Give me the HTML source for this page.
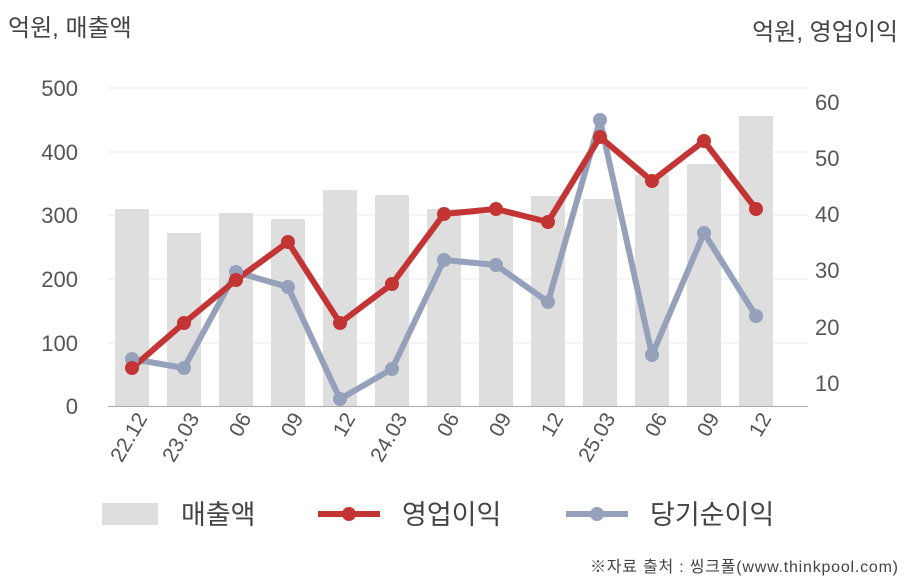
<!DOCTYPE html>
<html><head><meta charset="utf-8"><style>
body{margin:0;background:#fff;}
svg text{font-family:"Liberation Sans","Noto Sans CJK KR",sans-serif;}
</style></head><body>
<svg width="908" height="580" xmlns="http://www.w3.org/2000/svg">
<rect width="908" height="580" fill="#fff"/>
<text x="8" y="36" font-size="24" fill="#444">억원, 매출액</text>
<text x="898" y="40" font-size="24" fill="#444" text-anchor="end">억원, 영업이익</text>
<g stroke="#e8e8e8" stroke-width="1">
<line x1="108" y1="88" x2="808" y2="88"/><line x1="108" y1="152" x2="808" y2="152"/>
<line x1="108" y1="215" x2="808" y2="215"/><line x1="108" y1="279" x2="808" y2="279"/>
<line x1="108" y1="343" x2="808" y2="343"/>
</g>
<g font-size="22" fill="#555" text-anchor="end">
<text x="78" y="96">500</text><text x="78" y="160">400</text><text x="78" y="223">300</text>
<text x="78" y="287">200</text><text x="78" y="351">100</text><text x="78" y="414">0</text>
</g>
<g font-size="22" fill="#555">
<text x="815" y="110">60</text><text x="815" y="166">50</text><text x="815" y="222">40</text>
<text x="815" y="278">30</text><text x="815" y="335">20</text><text x="815" y="391">10</text>
</g>
<g fill="#dedede">
<rect x="115" y="209" width="34" height="197"/><rect x="167" y="233" width="34" height="173"/>
<rect x="219" y="213" width="34" height="193"/><rect x="271" y="219" width="34" height="187"/>
<rect x="323" y="190" width="34" height="216"/><rect x="375" y="195" width="34" height="211"/>
<rect x="427" y="209" width="34" height="197"/><rect x="479" y="214" width="34" height="192"/>
<rect x="531" y="196" width="34" height="210"/><rect x="583" y="199" width="34" height="207"/>
<rect x="635" y="175" width="34" height="231"/><rect x="687" y="164" width="34" height="242"/>
<rect x="739" y="116" width="34" height="290"/>
</g>
<line x1="108" y1="406.5" x2="808" y2="406.5" stroke="#aaa" stroke-width="1"/>
<g fill="none" stroke-width="6" stroke-linejoin="round">
<polyline stroke="#95a0ba" points="132,359 184,368 236,272 288,287 340,399 392,369 444,260 496,265 548,302 600,120 652,355 704,233 756,316"/>
<polyline stroke="#c33434" points="132,368 184,323 236,280 288,242 340,323 392,284 444,214 496,209 548,222 600,137 652,181 704,141 756,209"/>
</g>
<g fill="#95a0ba">
<circle cx="132" cy="359" r="7"/><circle cx="184" cy="368" r="7"/><circle cx="236" cy="272" r="7"/><circle cx="288" cy="287" r="7"/><circle cx="340" cy="399" r="7"/><circle cx="392" cy="369" r="7"/><circle cx="444" cy="260" r="7"/><circle cx="496" cy="265" r="7"/><circle cx="548" cy="302" r="7"/><circle cx="600" cy="120" r="7"/><circle cx="652" cy="355" r="7"/><circle cx="704" cy="233" r="7"/><circle cx="756" cy="316" r="7"/>
</g>
<g fill="#c33434">
<circle cx="132" cy="368" r="7"/><circle cx="184" cy="323" r="7"/><circle cx="236" cy="280" r="7"/><circle cx="288" cy="242" r="7"/><circle cx="340" cy="323" r="7"/><circle cx="392" cy="284" r="7"/><circle cx="444" cy="214" r="7"/><circle cx="496" cy="209" r="7"/><circle cx="548" cy="222" r="7"/><circle cx="600" cy="137" r="7"/><circle cx="652" cy="181" r="7"/><circle cx="704" cy="141" r="7"/><circle cx="756" cy="209" r="7"/>
</g>
<g font-size="21" fill="#555" text-anchor="end">
<text transform="translate(148,418) rotate(-60)">22.12</text>
<text transform="translate(200,418) rotate(-60)">23.03</text>
<text transform="translate(252,418) rotate(-60)">06</text>
<text transform="translate(304,418) rotate(-60)">09</text>
<text transform="translate(356,418) rotate(-60)">12</text>
<text transform="translate(408,418) rotate(-60)">24.03</text>
<text transform="translate(460,418) rotate(-60)">06</text>
<text transform="translate(512,418) rotate(-60)">09</text>
<text transform="translate(564,418) rotate(-60)">12</text>
<text transform="translate(616,418) rotate(-60)">25.03</text>
<text transform="translate(668,418) rotate(-60)">06</text>
<text transform="translate(720,418) rotate(-60)">09</text>
<text transform="translate(772,418) rotate(-60)">12</text>
</g>
<rect x="102" y="503" width="56" height="22" fill="#dedede"/>
<text x="181" y="524" font-size="27" fill="#444">매출액</text>
<line x1="318" y1="514" x2="380" y2="514" stroke="#c33434" stroke-width="6"/>
<circle cx="349" cy="514" r="7" fill="#c33434"/>
<text x="402" y="524" font-size="27" fill="#444">영업이익</text>
<line x1="566" y1="514" x2="628" y2="514" stroke="#95a0ba" stroke-width="6"/>
<circle cx="597" cy="514" r="7" fill="#95a0ba"/>
<text x="650" y="524" font-size="27" fill="#444">당기순이익</text>
<text x="898" y="572" font-size="16" fill="#444" text-anchor="end" textLength="308">※자료 출처 : 씽크풀(www.thinkpool.com)</text>
</svg>
</body></html>
